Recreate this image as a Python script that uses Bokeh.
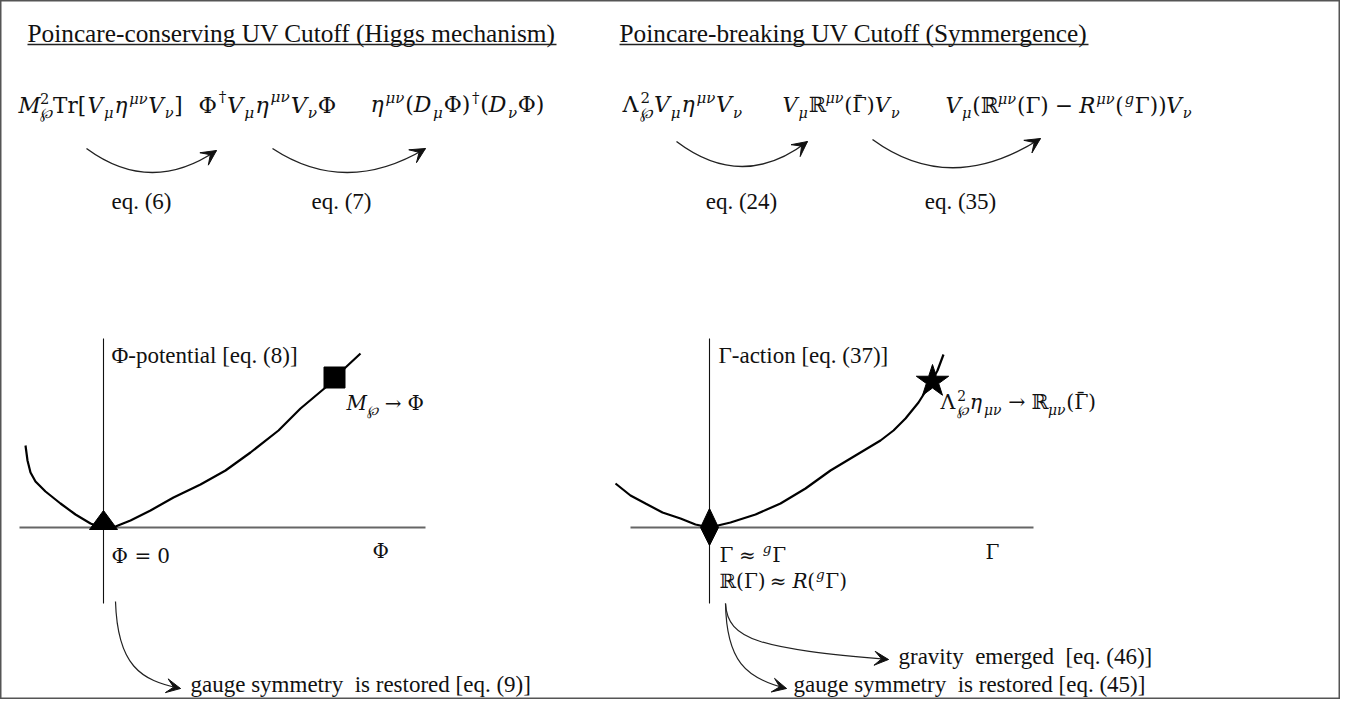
import math
from bokeh.plotting import figure
from bokeh.models import Range1d, ColumnDataSource, Arrow, VeeHead
from bokeh.embed import file_html
from bokeh.resources import INLINE
from bokeh.core.properties import field

# ---------------- data (canvas units = pixels of the diagram) ----------------
titles = ["Poincare-conserving UV Cutoff (Higgs mechanism)",
          "Poincare-breaking UV Cutoff (Symmergence)"]
title_x = [27, 619]
title_end = [556, 1088]

eq_labels = ["eq. (6)", "eq. (7)", "eq. (24)", "eq. (35)"]
eq_x = [141, 341, 741, 960]

# top curved arrows (quadratic): start, end, control
arr_x0 = [86, 272, 676, 872]
arr_y0 = [148, 148, 141, 139]
arr_x1 = [216, 425, 807, 1040]
arr_y1 = [150, 148, 141, 138]
arr_cx = [150, 345, 742, 950]
arr_cy = [195, 196, 191, 196]

# Phi-potential curve
phi_x = [25, 27, 30, 35, 45, 60, 75, 90, 103, 115, 130, 150, 173, 200, 225, 250, 278, 300, 325, 345, 360]
phi_y = [445, 460, 472, 481, 491, 503, 514, 523, 528, 526, 520, 510, 497, 484, 470, 452, 430, 408, 387, 367, 353]
phi_origin = (103, 527)
phi_cut = (334, 377)

# Gamma-action curve
gam_x = [615, 630, 645, 662, 680, 695, 709, 730, 755, 780, 805, 830, 855, 880, 893, 905, 918, 930, 937, 943]
gam_y = [483, 495, 503, 512, 518, 524, 527, 522, 514, 503, 488, 470, 455, 440, 430, 418, 402, 383, 370, 354]
gam_origin = (709, 527)
gam_cut = (932, 381)

# axes of the two sketches: (x0, y0, x1, y1)
vaxes = [(103, 338, 103, 603), (709, 338, 709, 603)]
haxes = [(19, 527, 425, 527), (630, 527, 1033, 527)]

# lower curved arrows (cubic): P0, C1, C2, P3
low_arrows = [
    ((115, 601), (117, 665), (140, 680), (180, 688)),
    ((725, 603), (726, 660), (745, 678), (786, 688)),
    ((725, 603), (727, 640), (760, 648), (888, 659)),
]

body_texts = [
    ("Φ-potential [eq. (8)]", 111, 362),
    ("Γ-action [eq. (37)]", 718, 362),
    ("gauge symmetry\u00a0 is restored [eq. (9)]", 190, 691),
    ("gravity\u00a0 emerged\u00a0 [eq. (46)]", 898, 663),
    ("gauge symmetry\u00a0 is restored [eq. (45)]", 793, 691),
]

# ---------------- figure ----------------
W, H = 1340, 699
p = figure(width=W, height=H, x_range=Range1d(0, W), y_range=Range1d(H, 0),
           output_backend="svg", toolbar_location=None, min_border=0,
           x_axis_location=None, y_axis_location=None)
p.grid.visible = False
p.outline_line_color = "#555555"
p.outline_line_width = 2
p.background_fill_color = "white"
p.border_fill_color = "white"

MATH = "DejaVu Serif"
BODY = "Liberation Serif"
BASE_SHIFT = 0.3  # renderer places 'alphabetic' text a bit low; compensate

WT = {' ': .318, '(': .39, ')': .39, '[': .39, ']': .39, 'T': .735, 'r': .478,
      'M': .95, 'V': .72, 'D': .83, 'R': .74, 'Φ': .85, 'Γ': .68, 'Λ': .77,
      'η': .64, 'μ': .66, 'ν': .6, 'g': .64, '℘': .85, 'ℝ': .75, '†': .5,
      '≈': .838, '→': .838, '−': .838, '=': .838}
for d in "0123456789":
    WT[d] = .636


def tw(t, size):
    return sum(WT.get(c, .6) for c in t) * size


rows = dict(x=[], y=[], text=[], size=[], font=[], style=[])


def put(x, y, t, size, font, style):
    rows['x'].append(x)
    rows['y'].append(y - BASE_SHIFT * size)
    rows['text'].append(t)
    rows['size'].append(f"{size:.1f}px")
    rows['font'].append(font)
    rows['style'].append(style)


def sty(t):
    return 'normal' if all(c in "0123456789†" for c in t) else 'italic'


def formula(x0, yb, segs, size):
    x = x0
    ss = size * 0.68
    for seg in segs:
        kind = seg[0]
        if kind == 's':
            sub, sup = seg[1], seg[2]
            w = 0
            if sub:
                put(x + 1, yb + 0.26 * size, sub, ss, MATH, sty(sub))
                w = max(w, tw(sub, ss))
            if sup:
                put(x + 1, yb - 0.42 * size, sup, ss, MATH, sty(sup))
                w = max(w, tw(sup, ss))
            x += w + 0.08 * size
        elif kind == 'g':
            x += seg[1] * size
        elif kind == 'b':
            put(x, yb, seg[1], size, MATH, 'normal')
            put(x + 0.06 * size, yb - 0.1 * size, '¯', size, MATH, 'normal')
            x += tw(seg[1], size)
        else:
            put(x, yb, seg[1], size, MATH, 'italic' if kind == 'i' else 'normal')
            x += tw(seg[1], size)
    return x


F1 = [('i', 'M'), ('s', '℘', '2'), ('n', 'Tr['), ('i', 'V'), ('s', 'μ', ''), ('i', 'η'),
      ('s', '', 'μν'), ('i', 'V'), ('s', 'ν', ''), ('n', ']')]
F2 = [('n', 'Φ'), ('s', '', '†'), ('i', 'V'), ('s', 'μ', ''), ('i', 'η'), ('s', '', 'μν'),
      ('i', 'V'), ('s', 'ν', ''), ('n', 'Φ')]
F3 = [('i', 'η'), ('s', '', 'μν'), ('n', '('), ('i', 'D'), ('s', 'μ', ''), ('n', 'Φ)'),
      ('s', '', '†'), ('n', '('), ('i', 'D'), ('s', 'ν', ''), ('n', 'Φ)')]
F4 = [('n', 'Λ'), ('s', '℘', '2'), ('i', 'V'), ('s', 'μ', ''), ('i', 'η'), ('s', '', 'μν'),
      ('i', 'V'), ('s', 'ν', '')]
F5 = [('i', 'V'), ('s', 'μ', ''), ('n', 'ℝ'), ('s', '', 'μν'), ('n', '('), ('b', 'Γ'), ('n', ')'),
      ('i', 'V'), ('s', 'ν', '')]
F6 = [('i', 'V'), ('s', 'μ', ''), ('n', '('), ('n', 'ℝ'), ('s', '', 'μν'), ('n', '(Γ)'),
      ('g', .3), ('n', '−'), ('g', .3), ('i', 'R'), ('s', '', 'μν'), ('n', '('), ('s', '', 'g'),
      ('n', 'Γ))'), ('i', 'V'), ('s', 'ν', '')]
F7 = [('i', 'M'), ('s', '℘', ''), ('g', .3), ('n', '→'), ('g', .3), ('n', 'Φ')]
F8 = [('n', 'Λ'), ('s', '℘', '2'), ('i', 'η'), ('s', 'μν', ''), ('g', .3), ('n', '→'),
      ('g', .3), ('n', 'ℝ'), ('s', 'μν', ''), ('n', '('), ('b', 'Γ'), ('n', ')')]
F9 = [('n', 'Γ'), ('g', .3), ('n', '≈'), ('g', .3), ('s', '', 'g'), ('n', 'Γ')]
F10 = [('n', 'ℝ(Γ)'), ('g', .3), ('n', '≈'), ('g', .3), ('i', 'R'), ('n', '('), ('s', '', 'g'),
       ('n', 'Γ)')]
F11 = [('n', 'Φ'), ('g', .3), ('n', '='), ('g', .3), ('n', '0')]

formula(18, 111, F1, 21.5)
formula(198, 111, F2, 22.5)
formula(370, 111, F3, 22)
formula(622, 111, F4, 22)
formula(782, 111, F5, 21)
formula(945, 111, F6, 21.5)
formula(346, 408, F7, 20)
formula(940, 408, F8, 20.5)
formula(719, 560, F9, 20)
formula(719, 586, F10, 20)
formula(111, 561, F11, 20)
formula(372, 556, [('n', 'Φ')], 20)
formula(985, 557, [('n', 'Γ')], 20)

for t, x, y in body_texts:
    put(x, y, t, 23, BODY, 'normal')
for t, x in zip(titles, title_x):
    put(x, 40, t, 25.3, BODY, 'normal')

src = ColumnDataSource(rows)
p.text(x='x', y='y', text='text', source=src, text_font_size=field('size'),
       text_font=field('font'), text_font_style=field('style'),
       text_align='left', text_baseline='alphabetic', text_color='#111111')

# eq labels centered
p.text(x=eq_x, y=[208 - BASE_SHIFT * 23] * 4, text=eq_labels, text_font_size="23px",
       text_font="Liberation Serif", text_align='center', text_baseline='alphabetic',
       text_color='#111111')

# underlines
p.segment(x0=title_x, y0=[44, 44], x1=title_end, y1=[44, 44], line_color="#222222", line_width=1.3)

# top arrows
p.quadratic(x0=arr_x0, y0=arr_y0, x1=arr_x1, y1=arr_y1, cx=arr_cx, cy=arr_cy,
            line_color="#222222", line_width=1.4)
for x1, y1, cx, cy in zip(arr_x1, arr_y1, arr_cx, arr_cy):
    dx, dy = x1 - cx, y1 - cy
    n = math.hypot(dx, dy)
    p.add_layout(Arrow(end=VeeHead(size=15, fill_color="#111111", line_color="#111111",
                                   line_width=1),
                       x_start=x1 - 8 * dx / n, y_start=y1 - 8 * dy / n, x_end=x1, y_end=y1,
                       line_color="#222222", line_width=1.4))

# lower arrows
for P0, C1, C2, P3 in low_arrows:
    p.bezier(x0=[P0[0]], y0=[P0[1]], x1=[P3[0]], y1=[P3[1]], cx0=[C1[0]], cy0=[C1[1]],
             cx1=[C2[0]], cy1=[C2[1]], line_color="#222222", line_width=1.2)
    dx, dy = P3[0] - C2[0], P3[1] - C2[1]
    n = math.hypot(dx, dy)
    p.add_layout(Arrow(end=VeeHead(size=14, fill_color="#111111", line_color="#111111",
                                   line_width=1),
                       x_start=P3[0] - 8 * dx / n, y_start=P3[1] - 8 * dy / n,
                       x_end=P3[0], y_end=P3[1], line_color="#222222", line_width=1.2))

# axes
p.segment(x0=[a[0] for a in vaxes], y0=[a[1] for a in vaxes], x1=[a[2] for a in vaxes],
          y1=[a[3] for a in vaxes], line_color="#111111", line_width=1.1)
p.segment(x0=[a[0] for a in haxes], y0=[a[1] for a in haxes], x1=[a[2] for a in haxes],
          y1=[a[3] for a in haxes], line_color="#666666", line_width=1.8)

# curves
p.line(phi_x, phi_y, line_color="black", line_width=2.2)
p.line(gam_x, gam_y, line_color="black", line_width=2.2)

# markers
ox, oy = phi_origin
p.patch([ox - 14, ox + 14, ox], [oy + 2, oy + 2, oy - 17], color="black")
gx, gy = gam_origin
p.patch([gx, gx + 9, gx, gx - 9], [gy - 19, gy, gy + 18, gy], color="black")
p.scatter([phi_cut[0]], [phi_cut[1]], marker="square", size=21, color="black")
p.scatter([gam_cut[0]], [gam_cut[1]], marker="star", size=34, color="black")

open("out.html", "w").write(file_html(p, INLINE))
